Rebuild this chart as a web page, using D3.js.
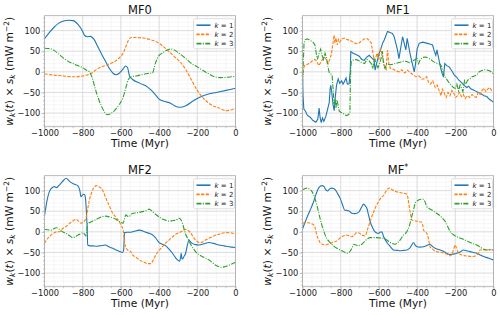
<!DOCTYPE html>
<html>
<head>
<meta charset="utf-8">
<script src="https://cdn.jsdelivr.net/npm/d3@7"></script>
<style>
body { margin: 0; background: #fff; }
svg { font-family: "DejaVu Sans", sans-serif; }
</style>
</head>
<body>
<svg id="fig" width="500" height="315"></svg>
<script>
// values, [time (Myr), w_k(t) x s_k]
var mf0_k1 = [[-1000,80],[-975,95],[-950,108],[-925,118],[-900,123],[-875,125],[-850,124],[-825,115],[-800,98],[-790,88],[-775,85],[-760,86],[-740,78],[-720,60],[-700,42],[-680,25],[-660,8],[-640,-4],[-625,-7],[-610,-4],[-590,6],[-575,14],[-565,10],[-555,-10],[-540,-18],[-500,-28],[-460,-37],[-440,-45],[-420,-55],[-400,-66],[-370,-72],[-340,-76],[-320,-82],[-290,-86],[-260,-82],[-220,-70],[-190,-62],[-150,-55],[-100,-50],[-50,-45],[0,-40]];
var mf0_k2 = [[-1000,-5],[-950,-8],[-900,-10],[-850,-12],[-800,-10],[-760,-5],[-720,8],[-680,16],[-640,23],[-610,33],[-590,44],[-575,60],[-560,77],[-545,83],[-520,83],[-480,82],[-440,77],[-410,72],[-380,62],[-350,50],[-320,37],[-290,24],[-260,5],[-230,-20],[-200,-45],[-180,-58],[-150,-72],[-120,-82],[-90,-87],[-50,-94],[-20,-92],[0,-88]];
var mf0_k3 = [[-1000,57],[-970,56],[-950,52],[-930,45],[-900,33],[-870,24],[-840,18],[-800,10],[-780,4],[-765,0],[-750,-15],[-735,-40],[-720,-62],[-700,-85],[-685,-98],[-670,-104],[-650,-100],[-630,-92],[-610,-80],[-590,-64],[-575,-40],[-560,-18],[-545,-12],[-520,-10],[-490,-7],[-460,-4],[-435,-3],[-420,20],[-400,40],[-380,46],[-360,52],[-340,55],[-320,53],[-290,43],[-260,32],[-230,20],[-200,12],[-170,3],[-140,-5],[-110,-12],[-80,-14],[-40,-13],[0,-11]];

var mf1_k1 = [[-1000,0],[-997,-60],[-993,-90],[-985,-95],[-975,-105],[-960,-110],[-945,-118],[-930,-122],[-920,-115],[-913,-88],[-908,-110],[-902,-123],[-895,-112],[-888,-120],[-878,-108],[-868,-90],[-860,-74],[-855,-40],[-852,-33],[-847,-49],[-840,-80],[-834,-94],[-828,-60],[-822,-33],[-813,-17],[-805,-28],[-795,-22],[-788,-30],[-782,-25],[-772,-15],[-765,-30],[-756,-29],[-750,0],[-747,49],[-735,45],[-720,42],[-703,38],[-690,30],[-677,28],[-665,35],[-651,40],[-640,35],[-630,30],[-625,28],[-620,4],[-612,20],[-599,45],[-590,55],[-580,70],[-572,77],[-563,88],[-555,98],[-545,96],[-535,94],[-529,93],[-520,85],[-512,70],[-503,53],[-495,32],[-485,60],[-476,85],[-468,70],[-459,53],[-452,81],[-442,57],[-435,40],[-425,20],[-415,0],[-408,20],[-400,55],[-389,69],[-370,72],[-346,69],[-330,67],[-319,65],[-310,50],[-302,40],[-296,53],[-286,30],[-276,8],[-268,-5],[-262,-13],[-255,20],[-245,15],[-232,12],[-222,5],[-215,0],[-205,-8],[-195,-12],[-180,-21],[-170,-25],[-160,-30],[-154,-33],[-140,-38],[-130,-35],[-119,-41],[-100,-45],[-84,-49],[-70,-52],[-49,-58],[-35,-60],[-23,-66],[-10,-70],[0,-74]];
var mf1_k2 = [[-1000,-13],[-995,5],[-990,15],[-975,18],[-960,22],[-945,28],[-935,30],[-925,25],[-915,15],[-905,22],[-895,30],[-885,35],[-875,30],[-865,20],[-858,30],[-850,40],[-845,55],[-840,70],[-835,89],[-830,70],[-825,82],[-818,65],[-812,78],[-805,72],[-795,80],[-780,82],[-765,78],[-750,76],[-735,72],[-720,68],[-705,70],[-690,75],[-675,80],[-660,80],[-648,75],[-640,70],[-633,50],[-627,35],[-620,28],[-610,45],[-600,30],[-593,55],[-586,48],[-578,30],[-570,12],[-562,6],[-555,53],[-548,20],[-540,8],[-525,6],[-510,2],[-495,0],[-480,5],[-465,-3],[-450,4],[-435,-2],[-420,-8],[-405,-12],[-390,-10],[-375,-18],[-363,-17],[-350,-12],[-340,-25],[-330,-30],[-318,-22],[-305,-38],[-295,-32],[-285,-45],[-275,-58],[-268,-42],[-258,-52],[-248,-62],[-238,-50],[-228,-58],[-218,-45],[-208,-52],[-198,-62],[-188,-58],[-178,-50],[-168,-60],[-158,-55],[-148,-65],[-138,-58],[-125,-62],[-112,-55],[-100,-60],[-90,-62],[-80,-50],[-70,-55],[-60,-45],[-50,-40],[-40,-48],[-30,-42],[-20,-38],[-10,-45],[0,-45]];
var mf1_k3 = [[-1000,-29],[-996,20],[-992,70],[-985,78],[-975,80],[-960,76],[-945,72],[-935,65],[-928,45],[-922,30],[-915,42],[-905,55],[-897,40],[-890,30],[-882,45],[-875,35],[-868,15],[-860,-2],[-852,-5],[-845,-8],[-840,-40],[-835,-78],[-830,-65],[-825,-88],[-820,-68],[-814,-80],[-808,-95],[-800,-98],[-790,-100],[-780,-104],[-770,-106],[-760,-104],[-752,-100],[-748,0],[-745,24],[-735,28],[-720,30],[-705,27],[-690,22],[-675,20],[-662,30],[-650,26],[-640,20],[-632,8],[-625,32],[-615,22],[-605,10],[-598,18],[-590,30],[-582,50],[-575,15],[-568,8],[-560,20],[-545,17],[-530,18],[-515,20],[-500,22],[-485,24],[-470,26],[-455,25],[-440,22],[-425,26],[-410,30],[-400,32],[-392,20],[-383,30],[-370,35],[-355,36],[-340,33],[-330,30],[-318,26],[-305,22],[-290,20],[-278,18],[-270,12],[-263,-3],[-255,-12],[-245,-18],[-235,-25],[-222,-32],[-210,-38],[-200,-40],[-192,-30],[-183,-46],[-175,-32],[-167,-40],[-160,-48],[-152,-22],[-145,-30],[-135,-20],[-125,-18],[-112,-12],[-100,-10],[-88,-8],[-75,0],[-60,3],[-45,5],[-30,4],[-18,2],[-8,-2],[0,-5]];

var mf2_k1 = [[-1000,39],[-987,75],[-974,98],[-957,108],[-948,110],[-939,107],[-925,112],[-913,118],[-900,125],[-887,130],[-870,123],[-855,118],[-843,115],[-826,112],[-815,100],[-809,85],[-803,88],[-797,91],[-790,90],[-786,83],[-782,60],[-779,33],[-776,0],[-774,-32],[-760,-34],[-748,-34],[-730,-35],[-713,-34],[-695,-33],[-682,-32],[-660,-37],[-643,-40],[-625,-44],[-609,-47],[-591,-50],[-586,-45],[-583,-20],[-581,-2],[-565,-1],[-548,-1],[-525,2],[-504,4],[-485,2],[-470,-1],[-450,-4],[-435,-7],[-418,-15],[-400,-26],[-383,-30],[-365,-34],[-348,-42],[-330,-52],[-315,-62],[-304,-68],[-292,-71],[-287,-60],[-284,-52],[-281,-64],[-278,-66],[-270,-60],[-261,-52],[-252,-32],[-243,-20],[-235,-25],[-226,-28],[-210,-31],[-191,-32],[-165,-29],[-139,-26],[-115,-28],[-87,-32],[-60,-34],[-35,-36],[0,-38]];
var mf2_k2 = [[-1000,-28],[-987,-18],[-974,-12],[-960,-5],[-948,-2],[-935,0],[-922,0],[-905,8],[-887,13],[-870,20],[-852,26],[-835,30],[-820,25],[-809,21],[-800,22],[-791,26],[-784,32],[-779,41],[-772,60],[-765,77],[-757,90],[-748,102],[-738,108],[-730,112],[-718,110],[-704,106],[-690,95],[-678,81],[-660,62],[-643,45],[-625,35],[-609,25],[-598,15],[-588,4],[-583,-15],[-578,-32],[-565,-44],[-548,-48],[-539,-56],[-520,-62],[-504,-68],[-482,-73],[-461,-77],[-443,-77],[-430,-68],[-417,-56],[-400,-45],[-383,-36],[-365,-27],[-348,-20],[-330,-12],[-313,-6],[-295,-2],[-278,2],[-261,6],[-248,3],[-235,-2],[-222,-12],[-209,-20],[-195,-25],[-183,-26],[-170,-24],[-157,-20],[-140,-16],[-122,-12],[-105,-8],[-87,-6],[-65,-3],[-43,-2],[-20,-3],[0,-6]];
var mf2_k3 = [[-1000,6],[-983,5],[-965,4],[-950,8],[-939,10],[-922,6],[-905,0],[-887,-4],[-870,-9],[-852,-14],[-838,-12],[-826,-8],[-812,-5],[-800,-2],[-790,-6],[-783,-10],[-778,5],[-774,21],[-760,23],[-748,26],[-730,30],[-713,34],[-695,37],[-678,38],[-660,36],[-643,34],[-625,30],[-609,25],[-595,22],[-588,21],[-582,30],[-574,41],[-565,38],[-557,37],[-548,42],[-539,45],[-520,46],[-504,47],[-487,49],[-470,51],[-452,55],[-435,49],[-417,42],[-400,36],[-383,31],[-365,28],[-348,26],[-330,27],[-313,28],[-296,33],[-287,30],[-278,21],[-270,8],[-261,-6],[-248,-18],[-235,-30],[-222,-40],[-209,-48],[-192,-55],[-174,-60],[-156,-64],[-139,-68],[-122,-74],[-104,-81],[-90,-84],[-78,-86],[-60,-85],[-35,-81],[-15,-77],[0,-74]];

var mfs_k1 = [[-1000,7],[-985,25],[-969,43],[-955,58],[-942,73],[-930,90],[-916,106],[-899,112],[-888,110],[-881,104],[-869,99],[-858,104],[-846,106],[-838,105],[-829,102],[-815,92],[-803,81],[-790,65],[-780,53],[-769,52],[-759,51],[-750,48],[-742,45],[-728,44],[-716,45],[-705,48],[-698,53],[-688,62],[-681,67],[-673,64],[-663,57],[-655,42],[-646,25],[-633,10],[-620,0],[-611,-3],[-602,-4],[-594,-1],[-585,0],[-575,-12],[-558,-26],[-540,-36],[-524,-44],[-505,-45],[-489,-46],[-470,-45],[-454,-44],[-445,-42],[-436,-38],[-428,-32],[-419,-26],[-410,-32],[-401,-36],[-385,-37],[-366,-36],[-349,-33],[-332,-30],[-318,-36],[-305,-40],[-285,-43],[-262,-47],[-245,-52],[-227,-55],[-210,-54],[-192,-52],[-175,-49],[-157,-44],[-140,-46],[-122,-48],[-105,-50],[-87,-52],[-70,-56],[-52,-60],[-25,-64],[0,-68]];
var mfs_k2 = [[-1000,21],[-985,22],[-969,22],[-955,20],[-942,17],[-933,8],[-925,-8],[-916,-18],[-908,-26],[-895,-30],[-881,-32],[-868,-30],[-855,-28],[-838,-25],[-820,-22],[-806,-16],[-794,-12],[-780,-9],[-768,-8],[-755,-10],[-742,-12],[-730,-8],[-716,-2],[-703,-3],[-689,-8],[-680,-9],[-672,-10],[-660,5],[-646,25],[-633,42],[-620,57],[-606,70],[-593,80],[-585,84],[-576,88],[-567,95],[-558,102],[-545,106],[-530,102],[-515,98],[-497,96],[-480,94],[-466,93],[-454,91],[-447,80],[-440,57],[-434,42],[-428,29],[-415,27],[-393,25],[-375,23],[-370,15],[-366,4],[-357,0],[-349,-4],[-340,-18],[-332,-36],[-318,-42],[-305,-47],[-285,-49],[-262,-51],[-245,-54],[-227,-58],[-214,-50],[-206,-38],[-201,-32],[-195,-38],[-183,-52],[-165,-56],[-148,-58],[-130,-59],[-113,-60],[-100,-59],[-87,-56],[-78,-50],[-70,-44],[-55,-44],[-35,-44],[-15,-43],[0,-44]];
var mfs_k3 = [[-1000,102],[-990,104],[-977,106],[-965,104],[-951,98],[-938,85],[-925,65],[-912,40],[-899,17],[-886,-2],[-873,-16],[-855,-26],[-838,-34],[-820,-40],[-803,-44],[-785,-48],[-768,-52],[-758,-51],[-748,-45],[-740,-38],[-733,-30],[-720,-32],[-707,-34],[-698,-32],[-689,-30],[-680,-26],[-672,-22],[-660,-17],[-646,-14],[-628,-14],[-611,-14],[-594,-15],[-576,-16],[-558,-20],[-541,-26],[-528,-29],[-515,-30],[-502,-26],[-489,-20],[-472,-8],[-454,0],[-440,15],[-428,37],[-418,55],[-410,69],[-400,75],[-393,77],[-380,79],[-366,79],[-358,72],[-349,61],[-336,56],[-323,53],[-305,47],[-288,42],[-270,34],[-253,25],[-240,13],[-227,0],[-210,-7],[-192,-12],[-175,-15],[-157,-18],[-140,-22],[-122,-26],[-105,-29],[-87,-32],[-70,-37],[-52,-42],[-25,-44],[0,-44]];

var xTicks = [-1000, -800, -600, -400, -200, 0];
var yTicks = [-100, -50, 0, 50, 100];
var legendLabels = ["1", "2", "3"];

var colors = ["#1f77b4", "#ff7f0e", "#2ca02c"];
var dashes = [null, "3.2,1.4", "5,1.4,1,1.4"];

var panels = [
  {title: "MF0", star: false, series: [mf0_k1, mf0_k2, mf0_k3], smooth: true, left: 44.5, top: 15.7},
  {title: "MF1", star: false, series: [mf1_k1, mf1_k2, mf1_k3], smooth: false, left: 302.5, top: 15.7},
  {title: "MF2", star: false, series: [mf2_k1, mf2_k2, mf2_k3], smooth: true, left: 44.5, top: 175.7},
  {title: "MF", star: true, series: [mfs_k1, mfs_k2, mfs_k3], smooth: true, left: 302.5, top: 175.7}
];

var pw = 191, ph = 111;
var svg = d3.select("#fig");

var x = d3.scaleLinear().domain([-1000, 0]).range([0, pw]);
var y = d3.scaleLinear().domain([-133, 136]).range([ph, 0]);
var fmt = d3.format("d");

panels.forEach(function(p, i) {
  var g = svg.append("g").attr("transform", "translate(" + p.left + "," + p.top + ")");

  // minor grid
  g.append("g").selectAll("line").data(d3.range(-1000, 1, 50)).enter().append("line")
    .attr("x1", function(d) { return x(d); }).attr("x2", function(d) { return x(d); })
    .attr("y1", 0).attr("y2", ph)
    .attr("stroke", "#e4e4e4").attr("stroke-width", 0.6).attr("stroke-dasharray", "1,1");
  g.append("g").selectAll("line").data(d3.range(-130, 136, 10)).enter().append("line")
    .attr("y1", function(d) { return y(d); }).attr("y2", function(d) { return y(d); })
    .attr("x1", 0).attr("x2", pw)
    .attr("stroke", "#e4e4e4").attr("stroke-width", 0.6).attr("stroke-dasharray", "1,1");

  // major grid
  g.append("g").selectAll("line").data(xTicks).enter().append("line")
    .attr("x1", function(d) { return x(d); }).attr("x2", function(d) { return x(d); })
    .attr("y1", 0).attr("y2", ph).attr("stroke", "#d8d8d8").attr("stroke-width", 0.8);
  g.append("g").selectAll("line").data(yTicks).enter().append("line")
    .attr("y1", function(d) { return y(d); }).attr("y2", function(d) { return y(d); })
    .attr("x1", 0).attr("x2", pw).attr("stroke", "#d8d8d8").attr("stroke-width", 0.8);

  // axes
  var xa = g.append("g").attr("transform", "translate(0," + ph + ")")
    .call(d3.axisBottom(x).tickValues(xTicks).tickFormat(fmt).tickSize(3).tickPadding(0.6));
  var ya = g.append("g")
    .call(d3.axisLeft(y).tickValues(yTicks).tickFormat(fmt).tickSize(3).tickPadding(1.2));
  [xa, ya].forEach(function(a) {
    a.select(".domain").remove();
    a.selectAll("line").attr("stroke", "#999").attr("stroke-width", 0.6);
    a.selectAll("text").attr("font-family", "DejaVu Sans").attr("font-size", 8.3).attr("fill", "#222");
  });
  g.append("g").selectAll("line").data(d3.range(-1000, 1, 50)).enter().append("line")
    .attr("x1", function(d) { return x(d); }).attr("x2", function(d) { return x(d); })
    .attr("y1", ph).attr("y2", ph + 1.6).attr("stroke", "#999").attr("stroke-width", 0.5);
  g.append("g").selectAll("line").data(d3.range(-130, 136, 10)).enter().append("line")
    .attr("y1", function(d) { return y(d); }).attr("y2", function(d) { return y(d); })
    .attr("x1", 0).attr("x2", -1.6).attr("stroke", "#999").attr("stroke-width", 0.5);

  // lines
  g.append("clipPath").attr("id", "clip" + i).append("rect").attr("width", pw).attr("height", ph);
  var line = d3.line()
    .x(function(d) { return x(d[0]); })
    .y(function(d) { return y(d[1]); })
    .curve(p.smooth ? d3.curveMonotoneX : d3.curveLinear);
  p.series.forEach(function(s, k) {
    g.append("path").datum(s)
      .attr("clip-path", "url(#clip" + i + ")")
      .attr("d", line)
      .attr("fill", "none")
      .attr("stroke", colors[k])
      .attr("stroke-width", 1.1)
      .attr("stroke-dasharray", dashes[k]);
  });

  // frame
  g.append("rect").attr("width", pw).attr("height", ph)
    .attr("fill", "none").attr("stroke", "#aaa").attr("stroke-width", 0.8);

  // title
  var t = g.append("text").attr("x", pw / 2).attr("y", -1.7)
    .attr("text-anchor", "middle").attr("font-size", 11.5).attr("fill", "#111")
    .text(p.title);
  if (p.star) t.append("tspan").attr("dy", -4).attr("font-size", 8).text("*");

  // axis labels
  g.append("text").attr("x", pw / 2).attr("y", ph + 20.8)
    .attr("text-anchor", "middle").attr("font-size", 10.7).attr("fill", "#111")
    .text("Time (Myr)");
  var yl = g.append("text")
    .attr("transform", "translate(-32," + (ph / 2) + ") rotate(-90)")
    .attr("text-anchor", "middle").attr("font-size", 10.7).attr("fill", "#111");
  yl.append("tspan").attr("font-style", "italic").text("w");
  yl.append("tspan").attr("font-style", "italic").attr("font-size", 7.5).attr("dy", 2).text("k");
  yl.append("tspan").attr("dy", -2).text("(");
  yl.append("tspan").attr("font-style", "italic").text("t");
  yl.append("tspan").text(") \u00d7 ");
  yl.append("tspan").attr("font-style", "italic").text("s");
  yl.append("tspan").attr("font-style", "italic").attr("font-size", 7.5).attr("dy", 2).text("k");
  yl.append("tspan").attr("dy", -2).text(" (mW m");
  yl.append("tspan").attr("font-size", 7.5).attr("dy", -4).text("\u22122");
  yl.append("tspan").attr("dy", 4).text(")");

  // legend
  var lg = g.append("g").attr("transform", "translate(" + (pw - 42) + ",3)");
  lg.append("rect").attr("width", 41).attr("height", 30).attr("rx", 2)
    .attr("fill", "#fff").attr("fill-opacity", 0.85).attr("stroke", "#ccc").attr("stroke-width", 0.6);
  legendLabels.forEach(function(lab, k) {
    var yy = 6.5 + k * 9.2;
    lg.append("line").attr("x1", 3).attr("x2", 17).attr("y1", yy).attr("y2", yy)
      .attr("stroke", colors[k]).attr("stroke-width", 1.6)
      .attr("stroke-dasharray", dashes[k]);
    var lt = lg.append("text").attr("x", 21).attr("y", yy + 2.5).attr("font-size", 7).attr("fill", "#222");
    lt.append("tspan").attr("font-style", "italic").text("k");
    lt.append("tspan").text(" = " + lab);
  });
});
</script>
</body>
</html>
